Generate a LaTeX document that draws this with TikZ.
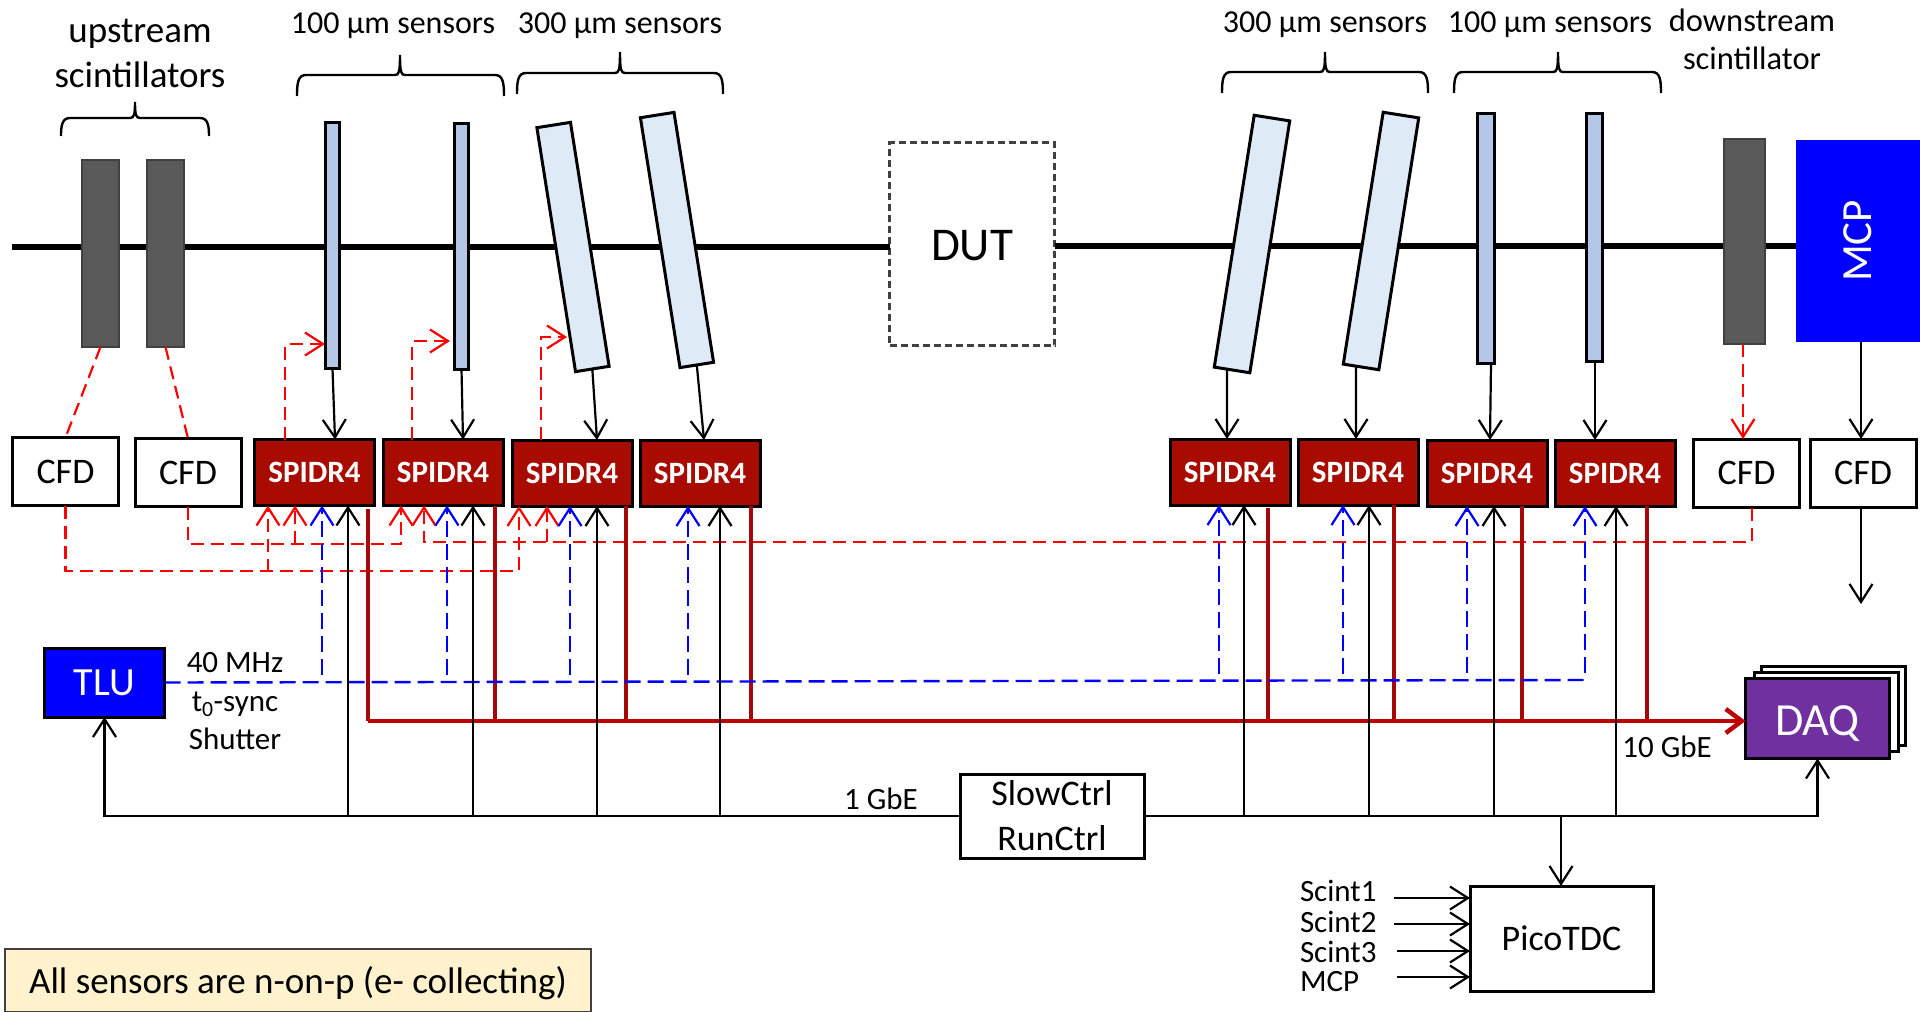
\documentclass[tikz,border=0pt]{standalone}
\usepackage{fontspec}
\setmainfont{Carlito}
\usetikzlibrary{arrows.meta,calc}
\definecolor{scint}{HTML}{595959}
\definecolor{scintb}{HTML}{404040}
\definecolor{thin}{HTML}{B4C7E7}
\definecolor{thick}{HTML}{DEEBF7}
\definecolor{spidr}{HTML}{A80B00}
\definecolor{dkred}{HTML}{A50808}
\definecolor{busred}{HTML}{C00000}
\definecolor{daqp}{HTML}{7030A0}
\definecolor{note}{HTML}{FFF2CC}
\newcommand\pxf[2]{\fontsize{#1pt}{#2pt}\selectfont}
\newcommand\curlybrk[6]{% xl xm xr ytip ysh ybot
  \draw[brk] (#1,#6) .. controls (#1,#5+8) and (#1+1,#5) .. (#1+9,#5) -- (#2-5,#5)
    .. controls (#2-1,#5) and (#2,#5-3) .. (#2,#4)
    .. controls (#2,#5-3) and (#2+1,#5) .. (#2+5,#5) -- (#3-9,#5)
    .. controls (#3-1,#5) and (#3,#5+8) .. (#3,#6);}
\tikzset{
  every node/.style={inner sep=0pt,outer sep=0pt},
  box/.style={draw=black,line width=3pt,fill=white,font={\pxf{36}{45}},align=center},
  scintbox/.style={draw=scintb,line width=2.5pt,fill=scint},
  thinsensor/.style={draw=black,line width=3pt,fill=thin},
  thicksensor/.style={draw=black,line width=3pt,fill=thick},
  spidrbox/.style={draw=black,line width=3pt,fill=spidr,text=white,font={\pxf{31}{36}\bfseries},minimum width=120pt,minimum height=66pt},
  cfdbox/.style={box,minimum width=106pt,minimum height=68pt},
  bluebox/.style={draw=black,line width=3pt,fill=blue,text=white},
  brk/.style={draw=black,line width=2.4pt},
  lab/.style={font={\pxf{31}{38}},anchor=base},
  barb/.style={-{Straight Barb[length=18pt,width=23pt,line width=2.2pt]}},
  arr/.style={draw=black,line width=2.2pt,barb},
  rdash/.style={draw=red,line width=2.2pt,dash pattern=on 13pt off 7pt},
  rarr/.style={rdash,barb},
  barr/.style={draw=blue,line width=2.4pt,dash pattern=on 16pt off 7pt,dash phase=16pt,barb},
  dk/.style={draw=dkred,line width=3.4pt},
}
\begin{document}
\begin{tikzpicture}[x=1pt,y=-1pt]
\useasboundingbox (0,0) rectangle (1920,1012);
% beam line
\coordinate (bl) at (12,247);
\coordinate (br) at (1796,246);
\node[draw=scintb,line width=2.5pt,dash pattern=on 7pt off 4pt,fill=white,minimum width=165pt,minimum height=203pt,font={\pxf{47}{50}},text height=32pt,text depth=0pt] (dut) at (972,244) {DUT};
\draw[line width=6.5pt] (bl) -- (dut.west |- bl);
\draw[line width=6.5pt] (dut.east |- br) -- (br);
% scintillators
\node[scintbox,minimum width=37pt,minimum height=187pt] (sc1) at (100.5,253.5) {};
\node[scintbox,minimum width=37pt,minimum height=187pt] (sc2) at (165.5,253.5) {};
\node[scintbox,minimum width=41pt,minimum height=205pt] (sc3) at (1744.5,241.5) {};
\node[fill=blue,minimum width=124pt,minimum height=202pt,text=white,font={\pxf{43}{46}}] (mcp) at (1858,241) {\rotatebox{90}{MCP}};
% sensors
\node[thinsensor,minimum width=14pt,minimum height=246pt] (s1) at (332.5,245.5) {};
\node[thinsensor,minimum width=14pt,minimum height=246pt] (s2) at (461.5,246) {};
\node[thicksensor,minimum width=34pt,minimum height=247pt,rotate=9] (s3) at (573,247) {};
\node[thicksensor,minimum width=34pt,minimum height=253pt,rotate=9] (s4) at (677,240) {};
\node[thicksensor,minimum width=36pt,minimum height=255pt,rotate=-9] (s5) at (1252,244) {};
\node[thicksensor,minimum width=36pt,minimum height=255pt,rotate=-9] (s6) at (1381,241) {};
\node[thinsensor,minimum width=17pt,minimum height=250pt] (s7) at (1486,238.5) {};
\node[thinsensor,minimum width=16pt,minimum height=248pt] (s8) at (1594,237.5) {};
% readout boards
\node[spidrbox] (sp1) at (314.5,472.5) {SPIDR4};
\node[spidrbox] (sp2) at (443,472.5) {SPIDR4};
\node[spidrbox] (sp3) at (572,473) {SPIDR4};
\node[spidrbox] (sp4) at (700,473) {SPIDR4};
\node[spidrbox] (sp5) at (1230,472) {SPIDR4};
\node[spidrbox] (sp6) at (1358,472) {SPIDR4};
\node[spidrbox] (sp7) at (1487,473) {SPIDR4};
\node[spidrbox] (sp8) at (1615,473) {SPIDR4};
\node[cfdbox] (cfd1) at (65.5,471.5) {CFD};
\node[cfdbox] (cfd2) at (188,472.5) {CFD};
\node[cfdbox] (cfd3) at (1746.5,473) {CFD};
\node[cfdbox] (cfd4) at (1863,473) {CFD};
\node[bluebox,minimum width=120pt,minimum height=69pt,font={\pxf{40}{44}}] (tlu) at (104.5,682.5) {TLU};
\node[box,minimum width=184pt,minimum height=84pt] (slow) at (1052,816) {SlowCtrl\\RunCtrl};
\node[box,minimum width=183pt,minimum height=105pt] (pico) at (1561.5,938.5) {PicoTDC};
\node[box,minimum width=144pt,minimum height=79pt] (daqc) at (1833.5,705.5) {};
\node[box,minimum width=144pt,minimum height=79pt] (daqb) at (1826.5,712) {};
\node[draw=black,line width=3pt,fill=daqp,text=white,font={\pxf{46}{50}},minimum width=144pt,minimum height=80pt,text height=33pt,text depth=0pt] (daq) at (1817.5,718.5) {DAQ};
\node[draw=scintb,line width=2pt,fill=note,minimum width=586pt,minimum height=63pt,font={\pxf{37}{42}},text height=26pt,text depth=0pt] (allnote) at (298,980) {All sensors are n-on-p (e- collecting)};
% labels
\node[font={\pxf{37}{45}},align=center] (upl) at (140,53) {upstream\\scintillators};
\node[lab,font={\pxf{32}{38}}] (l1) at (393,33) {100 µm sensors};
\node[lab,font={\pxf{32}{38}}] (l2) at (620,33) {300 µm sensors};
\node[lab,font={\pxf{32}{38}}] (l3) at (1325,32) {300 µm sensors};
\node[lab,font={\pxf{32}{38}}] (l4) at (1550,32) {100 µm sensors};
\node[font={\pxf{32.5}{38}},align=center] (dnl) at (1752,39) {downstream\\scintillator};
\node[lab] (f40) at (235,672) {40 MHz};
\node[lab] (t0s) at (235,711) {t\textsubscript{0}-sync};
\node[lab] (shu) at (235,749) {Shutter};
\node[lab] (g10) at (1667,757) {10 GbE};
\node[lab] (g1) at (881,809) {1 GbE};
\node[lab,anchor=base west] (n1) at (1300,901) {Scint1};
\node[lab,anchor=base west] (n2) at (1300,932) {Scint2};
\node[lab,anchor=base west] (n3) at (1300,962) {Scint3};
\node[lab,anchor=base west] (n4) at (1300,991) {MCP};
% braces
\curlybrk{61}{135}{209}{102}{118}{136}
\curlybrk{297}{400}{504}{55}{75}{96}
\curlybrk{517}{620}{723}{52}{73}{94}
\curlybrk{1222}{1325}{1428}{52}{72}{93}
\curlybrk{1454}{1558}{1661}{52}{72}{93}
% named tap points
\coordinate (r1) at (268,571.5); \coordinate (r3) at (519,571);
\coordinate (r2) at (295,544); \coordinate (r4) at (401,544);
\coordinate (r5) at (424,542); \coordinate (r6) at (547,542);
\coordinate (c3b) at (1752,508);
\coordinate (t1) at (285,344); \coordinate (a1) at (325,344);
\coordinate (t2) at (412,341); \coordinate (a2) at (450,341);
\coordinate (t3) at (541,337); \coordinate (a3) at (567,337);
\coordinate (b1) at (322,682); \coordinate (b2) at (447,682); \coordinate (b3) at (570,681.5); \coordinate (b4) at (688,681.5);
\coordinate (b5) at (1219,680.5); \coordinate (b6) at (1343,680.5); \coordinate (b7) at (1467,680); \coordinate (b8) at (1585,680);
\coordinate (bus0) at (368,721);
\coordinate (d2) at (495,721); \coordinate (d3) at (626,721); \coordinate (d4) at (751,721);
\coordinate (d5) at (1268,721); \coordinate (d6) at (1394,721); \coordinate (d7) at (1522,721); \coordinate (d8) at (1647,721);
\coordinate (k1) at (348,816); \coordinate (k2) at (473,816); \coordinate (k3) at (597,816); \coordinate (k4) at (720,816);
\coordinate (k5) at (1244,816); \coordinate (k6) at (1369,816); \coordinate (k7) at (1494,816); \coordinate (k8) at (1616,816);
\coordinate (p0) at (1561,816);
\coordinate (cfdout) at (1861,604);
\coordinate (i1) at (1394,898); \coordinate (i2) at (1394,924); \coordinate (i3) at (1397,951); \coordinate (i4) at (1397,977);
% scintillator to CFD
\draw[rdash] (sc1.south) -- (cfd1.north);
\draw[rdash] (sc2.south) -- (cfd2.north);
\draw[rarr] ([xshift=-1.5pt]sc3.south) -- ([xshift=-3.5pt]cfd3.north);
% CFD to SPIDR
\draw[rarr] (cfd1.south) |- (r3) -- (r3 |- sp3.south);
\draw[rarr] (r1) -- (r1 |- sp1.south);
\draw[rarr] (cfd2.south) |- (r4) -- (r4 |- sp2.south);
\draw[rarr] (r2) -- (r2 |- sp1.south);
\draw[rarr] (c3b) |- (r5) -- (r5 |- sp2.south);
\draw[rarr] (r6) -- (r6 |- sp3.south);
% SPIDR to sensor
\draw[rarr] (t1 |- sp1.north) -- (t1) -- (a1);
\draw[rarr] (t2 |- sp2.north) -- (t2) -- (a2);
\draw[rarr] (t3 |- sp3.north) -- (t3) -- (a3);
% data lines, then bus
\draw[dk] ([yshift=-3pt]bus0 |- sp1.south) -- (bus0);
\foreach \d/\sp in {d2/sp2,d3/sp3,d4/sp4,d6/sp6,d7/sp7,d8/sp8}
  \draw[dk] (\d |- \sp.south) -- (\d);
\draw[dk] ([yshift=-3pt]d5 |- sp5.south) -- (d5);
\draw[draw=busred,line width=4.5pt,-{Straight Barb[length=16pt,width=24pt,line width=4.5pt]}] (bus0) -- (bus0 -| daq.west);
% clock and control from TLU
\draw[draw=blue,line width=2.4pt,dash pattern=on 16pt off 7pt] (tlu.east) -- (b8);
\foreach \b/\sp in {b1/sp1,b2/sp2,b3/sp3,b4/sp4,b5/sp5,b6/sp6,b7/sp7,b8/sp8}
  \draw[barr] (\b) -- (\b |- \sp.south);
% sensors to SPIDR
\draw[arr] (s1.south) -- ([xshift=20.5pt]sp1.north);
\draw[arr] (s2.south) -- ([xshift=20pt]sp2.north);
\draw[arr] (s3.south) -- ([xshift=25pt]sp3.north);
\draw[arr] (s4.south) -- ([xshift=4pt]sp4.north);
\draw[arr] ([xshift=-5pt]s5.south) -- ([xshift=-3pt]sp5.north);
\draw[arr] ([xshift=-5pt]s6.south) -- ([xshift=-2pt]sp6.north);
\draw[arr] ([xshift=5pt]s7.south) -- ([xshift=3pt]sp7.north);
\draw[arr] ([xshift=1pt]s8.south) -- ([xshift=-20pt]sp8.north);
\draw[arr] ([xshift=3pt]mcp.south) -- ([xshift=-2pt]cfd4.north);
\draw[arr] ([xshift=-2pt]cfd4.south) -- (cfdout);
% slow control bus
\draw[arr] (slow.west) -| (tlu.south);
\draw[arr] (slow.east) -| (daq.south);
\foreach \k/\sp in {k1/sp1,k2/sp2,k3/sp3,k4/sp4,k5/sp5,k6/sp6,k7/sp7,k8/sp8}
  \draw[arr] (\k) -- (\k |- \sp.south);
\draw[arr] (p0) -- (p0 |- pico.north);
\foreach \i in {i1,i2,i3,i4}
  \draw[arr,line width=2.6pt] (\i) -- (\i -| pico.west);
\end{tikzpicture}
\end{document}
